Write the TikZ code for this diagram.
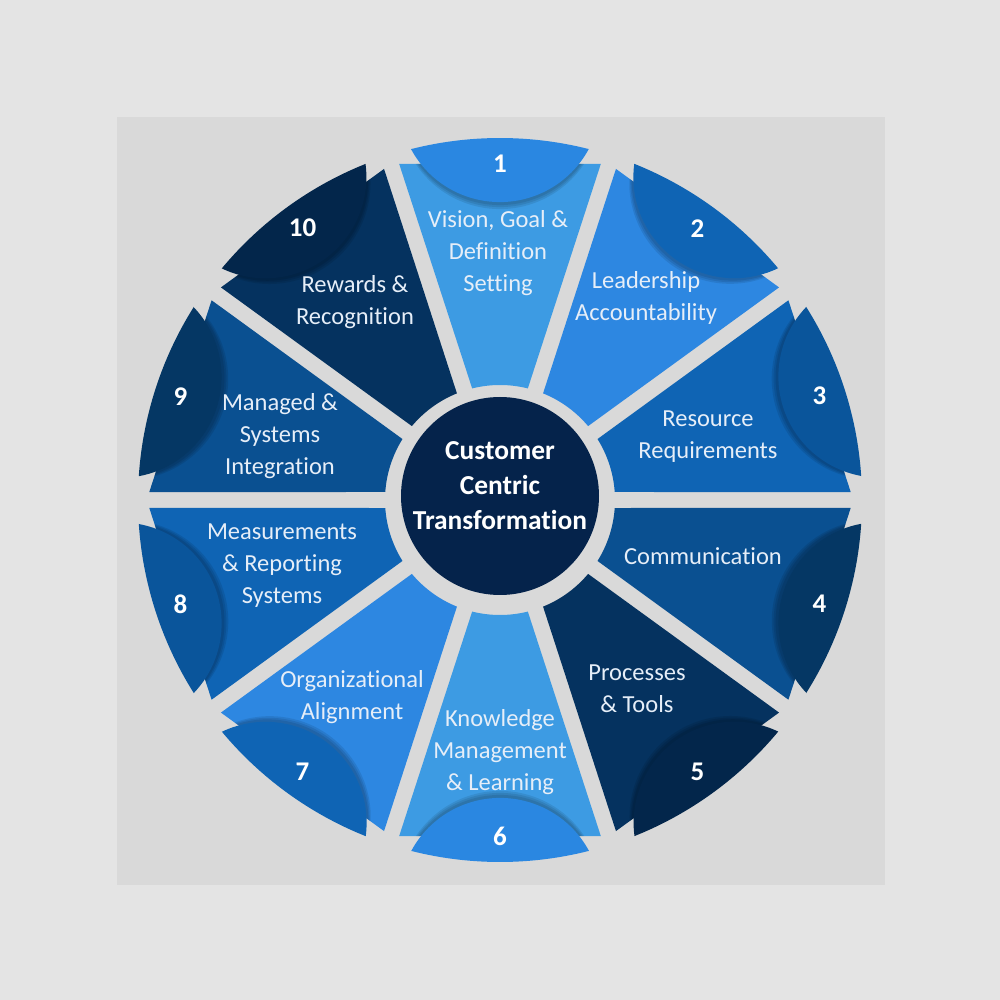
\documentclass[tikz,border=0pt]{standalone}
\usepackage{fontspec}
\setmainfont[Ligatures={NoCommon,NoContextual}]{Carlito}
\usetikzlibrary{calc}
\definecolor{bgout}{HTML}{E4E4E4}
\definecolor{bgin}{HTML}{D9D9D9}
\definecolor{tA}{HTML}{3D9BE3}
\definecolor{cA}{HTML}{2A87E1}
\definecolor{tB}{HTML}{2D87E1}
\definecolor{cB}{HTML}{0F64B4}
\definecolor{tC}{HTML}{0F64B4}
\definecolor{cC}{HTML}{0A559B}
\definecolor{tD}{HTML}{0A5091}
\definecolor{cD}{HTML}{053764}
\definecolor{tE}{HTML}{05325F}
\definecolor{cE}{HTML}{03264B}
\definecolor{hub}{HTML}{05234B}
\definecolor{lbltext}{HTML}{E6EEF8}
\begin{document}
\begin{tikzpicture}[x=0.5pt,y=0.5pt,
  lbl/.style={text=lbltext, font=\fontsize{12.25}{16}\selectfont, align=center, inner sep=0pt},
  numlbl/.style={text=white, font=\bfseries\fontsize{13.5}{16}\selectfont, inner sep=0pt},
  hubtext/.style={text=white, font=\bfseries\fontsize{13.7}{17.5}\selectfont, align=center, inner sep=0pt}]
\useasboundingbox (-500,-500) rectangle (500,500);
\fill[bgout] (-500,-500) rectangle (500,500);
\fill[bgin] (-383,-385) rectangle (385,383);
\foreach \a/\tc/\cc in {90/tA/cA,54/tB/cB,18/tC/cC,-18/tD/cD,-54/tE/cE,-90/tA/cA,-126/tB/cB,-162/tC/cC,162/tD/cD,126/tE/cE}{
  \begin{scope}[rotate=\a]
    \fill[\tc] (-14.01:115) -- (336,-100.8) -- (336,100.8) -- (14.01:115)
      arc[start angle=14.01,end angle=-14.01,radius=115] -- cycle;
    \begin{scope}
      \clip (-14.01:115) -- (336,-100.8) -- (336,100.8) -- (14.01:115)
        arc[start angle=14.01,end angle=-14.01,radius=115] -- cycle;
      \foreach \s in {7,5,3}{
        \begin{scope}[shift={(-\s,0)}]
          \fill[black,opacity=0.09] (-14.23:362) arc[start angle=-14.23,end angle=14.23,radius=362]
            arc[start angle=118.4,end angle=241.6,radius=101] -- cycle;
        \end{scope}
      }
    \end{scope}
    \fill[\cc] (-14.23:362) arc[start angle=-14.23,end angle=14.23,radius=362]
      arc[start angle=118.4,end angle=241.6,radius=101] -- cycle;
  \end{scope}
}
\fill[hub] (0,4) circle[radius=99];
\node[hubtext] (hubt) at (0,14) {Customer\\Centric\\Transformation};
\node[lbl] (t1) at (-2,247) {Vision, Goal \&\\Definition\\Setting};
\node[lbl] (t2) at (146,202) {Leadership\\Accountability};
\node[lbl] (t3) at (208,63) {Resource\\Requirements};
\node[lbl] (t4) at (203,-56) {Communication};
\node[lbl] (t5) at (137,-189) {Processes\\\& Tools};
\node[lbl] (t6) at (0,-252) {Knowledge\\Management\\\& Learning};
\node[lbl] (t7) at (-148,-197) {Organizational\\Alignment};
\node[lbl] (t8) at (-218,-66) {Measurements\\\& Reporting\\Systems};
\node[lbl] (t9) at (-220,64) {Managed \&\\Systems\\Integration};
\node[lbl] (t10) at (-145,198) {Rewards \&\\Recognition};
\foreach \a/\n in {90/1,54/2,18/3,-18/4,-54/5,-90/6,-126/7,-162/8,162/9,126/10}{
  \node[numlbl] (n\n) at (\a:336) {\n};
}
\end{tikzpicture}
\end{document}
